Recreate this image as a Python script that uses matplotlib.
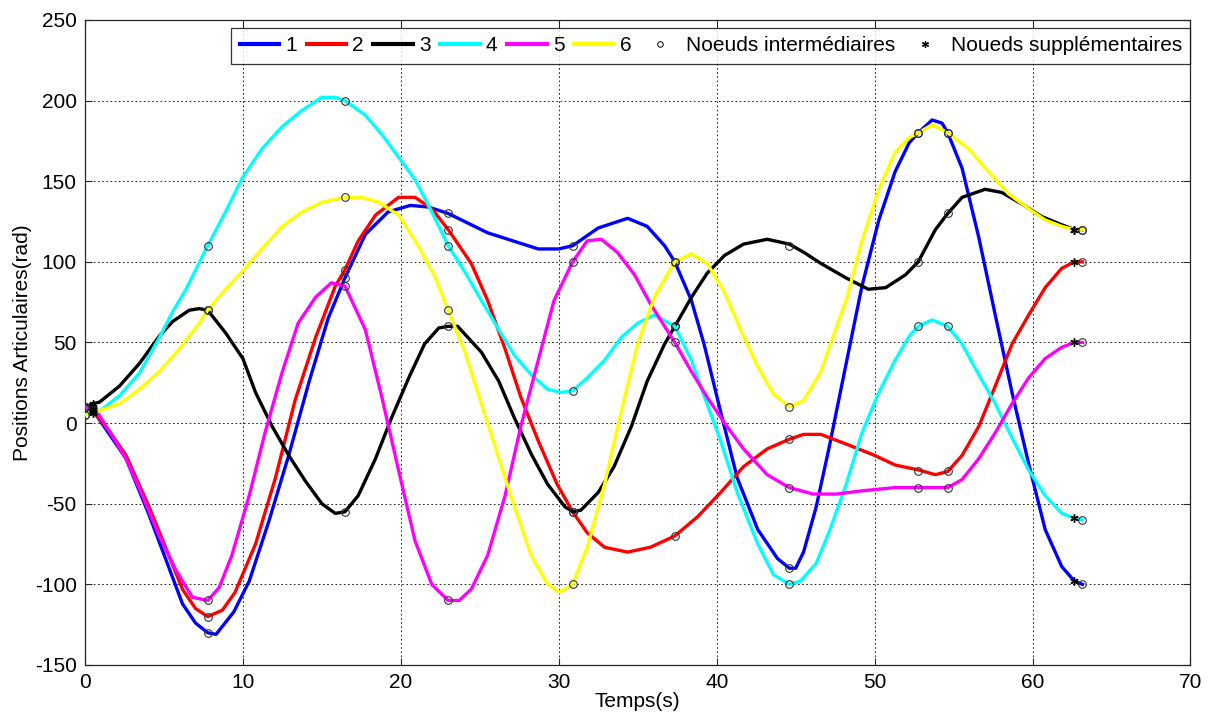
import matplotlib
matplotlib.use("Agg")
import matplotlib.pyplot as plt
from matplotlib.lines import Line2D

plt.rcParams['font.family'] = ['Liberation Sans', 'DejaVu Sans']
plt.rcParams['axes.unicode_minus'] = False

# courbes (temps, position)
t1 = [0, 0.5, 2.6, 4.06, 5.1, 6.17, 7.0, 7.77, 8.3, 9.43, 10.4, 11.64, 12.9, 14.2, 15.4, 16.46,
      17.75, 19.2, 20.6, 21.75, 23.0, 25.5, 28.7, 30.0, 30.88, 32.5, 34.36, 35.6, 36.7, 37.35,
      38.4, 39.2, 40.25, 41.3, 42.6, 43.85, 44.6, 45.0, 45.5, 46.3, 47.1, 48.2, 49.2, 50.27, 51.3,
      52.2, 52.76, 53.64, 54.27, 54.63, 55.54, 56.6, 57.64, 58.7, 59.75, 60.8, 61.85, 62.65, 63.16]
q1 = [10, 8, -22, -57, -84, -112, -124, -130, -131, -117, -98, -61, -20, 26, 65, 90,
      117, 131, 135, 134, 130, 118, 108, 108, 110, 121, 127, 122, 110, 100,
      76, 49, 7, -34, -66, -84, -90, -90, -80, -52, -16, 37, 85, 126, 156,
      174, 180, 188, 186, 180, 158, 115, 67, 19, -25, -66, -89, -98, -100]

t2 = [0, 0.5, 1.54, 2.6, 4.06, 5.1, 6.17, 7.0, 7.77, 8.7, 9.5, 10.8, 12.06, 13.3, 14.6, 15.85, 16.46,
      17.3, 18.4, 19.85, 20.9, 21.96, 23.0, 24.46, 25.5, 26.6, 27.6, 28.7, 29.9, 30.88, 31.8,
      32.9, 34.36, 35.8, 37.35, 38.8, 40.25, 41.7, 43.2, 44.6, 45.5, 46.6, 48.2, 50.0, 51.3,
      52.76, 53.85, 54.63, 55.54, 56.6, 57.64, 58.7, 59.75, 60.8, 61.85, 62.65, 63.16]
q2 = [10, 8, -5, -20, -52, -77, -103, -115, -120, -116, -105, -75, -34, 14, 53, 85, 95,
      113, 129, 140, 140, 133, 120, 99, 76, 46, 16, -11, -38, -55, -68,
      -77, -80, -77, -70, -58, -43, -27, -16, -10, -7, -7, -13, -20, -26,
      -29, -32, -30, -20, -2, 23, 49, 67, 84, 96, 100, 100]

t3 = [0, 0.5, 0.92, 2.19, 3.45, 4.71, 5.55, 6.6, 7.24, 7.77, 8.9, 10.0, 10.8, 11.85, 12.9, 13.96,
      15.0, 15.85, 16.46, 17.3, 18.4, 19.4, 20.5, 21.5, 22.4, 23.0, 23.6, 25.1, 26.2, 27.2,
      28.3, 29.3, 30.4, 30.9, 31.4, 32.5, 33.5, 34.6, 35.6, 36.7, 37.35, 38.4, 39.4, 40.5, 41.7,
      43.2, 44.6, 45.5, 46.6, 48.2, 49.6, 50.7, 51.96, 52.76, 53.85, 54.63, 55.54, 57.0, 58.06,
      59.3, 60.6, 61.85, 62.65, 63.16]
q3 = [10, 12, 13, 23, 37, 54, 63, 70, 71, 70, 56, 40, 19, -2, -20, -36,
      -50, -56, -55, -45, -22, 3, 28, 49, 59, 60, 60, 44, 26, 3,
      -20, -38, -52, -55, -54, -43, -27, -2, 26, 49, 60, 78, 93, 104, 111,
      114, 111, 106, 99, 90, 83, 84, 92, 100, 120, 130, 140, 145, 143,
      136, 128, 123, 120, 120]

t4 = [0, 0.5, 1.0, 2.19, 3.45, 4.71, 5.55, 6.4, 7.77, 8.9, 9.96, 11.2, 12.5, 13.75, 15.0, 15.85,
      16.46, 17.75, 18.8, 19.85, 20.9, 21.96, 23.0, 24.04, 25.1, 26.2, 27.2, 28.25, 29.3, 30.15,
      30.88, 31.8, 32.9, 33.95, 35.0, 36.05, 37.35, 38.4, 39.2, 40.25, 41.3, 42.6, 43.6, 44.6,
      45.3, 46.3, 47.1, 48.2, 49.2, 50.27, 51.3, 52.2, 52.76, 53.64, 54.63, 55.54, 56.6, 57.64,
      58.7, 59.75, 60.8, 61.85, 62.65, 63.16]
q4 = [5, 7, 8, 17, 31, 53, 69, 83, 110, 131, 152, 170, 184, 194, 202, 202,
      200, 191, 179, 165, 151, 131, 110, 94, 76, 58, 42, 30, 21, 19,
      20, 28, 39, 53, 62, 67, 60, 39, 17, -11, -43, -75, -94, -100,
      -98, -87, -68, -38, -6, 19, 39, 54, 60, 64, 60, 49, 30, 12,
      -9, -29, -45, -56, -59, -60]

t5 = [0, 0.7, 1.54, 2.6, 3.64, 4.7, 5.75, 6.8, 7.77, 8.5, 9.3, 10.4, 11.4, 12.5, 13.5, 14.6, 15.6,
      16.46, 17.75, 18.8, 19.85, 20.9, 21.96, 23.0, 23.7, 24.46, 25.5, 26.6, 27.6, 28.7, 29.7,
      30.88, 31.8, 32.7, 33.7, 34.8, 35.8, 37.35, 38.4, 39.4, 40.5, 41.7, 43.2, 44.6, 46.1,
      47.6, 49.2, 51.3, 52.76, 54.63, 55.54, 56.6, 57.64, 58.7, 59.75, 60.8, 61.85, 62.65, 63.16]
q5 = [10, 8, -5, -22, -45, -70, -91, -108, -110, -102, -82, -45, -6, 32, 62, 78, 87,
      85, 58, 16, -29, -73, -100, -110, -110, -103, -82, -45, -2, 39, 76,
      100, 113, 114, 106, 92, 74, 50, 32, 16, 0, -16, -32, -40, -44,
      -44, -42, -40, -40, -40, -35, -22, -6, 12, 28, 40, 47, 50, 50]

t6 = [0, 0.7, 1.0, 2.19, 3.45, 4.71, 5.97, 7.24, 7.77, 8.9, 9.96, 11.2, 12.5, 13.75, 15.0, 16.46,
      17.5, 18.6, 19.85, 21.1, 22.2, 23.0, 24.06, 25.1, 26.15, 27.2, 28.25, 29.3, 30.04, 30.88,
      31.8, 32.9, 33.95, 35.0, 36.05, 37.35, 38.4, 39.4, 40.5, 41.5, 42.6, 43.6, 44.6, 45.5,
      46.6, 47.6, 48.2, 49.2, 50.27, 51.3, 52.2, 52.76, 53.64, 54.63, 55.96, 57.2, 58.5, 59.75,
      60.8, 61.85, 62.65, 63.16]
q6 = [5, 7, 8, 12, 21, 32, 46, 62, 70, 83, 94, 108, 122, 131, 137, 140,
      140, 137, 129, 110, 90, 70, 44, 12, -20, -52, -82, -100, -105, -100,
      -77, -38, 7, 49, 78, 100, 105, 99, 81, 58, 35, 18, 10, 14,
      32, 60, 76, 113, 145, 168, 177, 180, 185, 180, 170, 156, 142, 133,
      126, 122, 120, 120]

# noeuds intermediaires (cercles)
tn = [0, 7.77, 16.46, 23.0, 30.88, 37.35, 44.6, 52.76, 54.63, 63.16]
n1 = [10, -130, 90, 130, 110, 100, -90, 180, 180, -100]
n2 = [10, -120, 95, 120, -55, -70, -10, -30, -30, 100]
n3 = [10, 70, -55, 60, -55, 60, 110, 100, 130, 120]
n4 = [5, 110, 200, 110, 20, 60, -100, 60, 60, -60]
n5 = [10, -110, 85, -110, 100, 50, -40, -40, -40, 50]
n6 = [5, 70, 140, 70, -100, 100, 10, 180, 180, 120]

# noeuds supplementaires (etoiles)
ts = [0.5, 62.65]
s1 = [8, -98]
s2 = [8, 100]
s3 = [12, 120]
s4 = [7, -59]
s5 = [9, 50]
s6 = [6, 120]

couleurs = ['#0000ff', '#ff0000', '#000000', '#00ffff', '#ff00ff', '#ffff00']
asterisque = (6, 2, 0)

fig = plt.figure(figsize=(12.21, 7.21), dpi=100)
ax = fig.add_axes([0.0696, 0.0777, 0.9054, 0.8946])

courbes = [(t1, q1), (t2, q2), (t3, q3), (t4, q4), (t5, q5), (t6, q6)]
for i, (t, q) in enumerate(courbes):
    ax.plot(t, q, color=couleurs[i], lw=2.4, label=str(i + 1), zorder=3)

for n in [n1, n2, n3, n4, n5, n6]:
    ax.plot(tn, n, 'o', ms=5.5, mfc='none', mec='#333333', mew=0.8, zorder=4)
for s in [s1, s2, s3, s4, s5, s6]:
    ax.plot(ts, s, ls='none', marker=asterisque, ms=6, mew=1.0, color='black', zorder=4)

ax.set_xlim(0, 70)
ax.set_ylim(-150, 250)
ax.set_xticks(range(0, 71, 10))
ax.set_yticks(range(-150, 251, 50))
ax.grid(True, color='black', linestyle=(0, (2, 3)), lw=0.6)
ax.tick_params(direction='in', top=True, right=True, labelsize=15, length=5, width=0.8,
               color='#262626', pad=6)
for sp in ax.spines.values():
    sp.set_linewidth(0.9)
    sp.set_color('#262626')
ax.set_xlabel('Temps(s)', fontsize=15, labelpad=0)
ax.set_ylabel('Positions Articulaires(rad)', fontsize=15, labelpad=2)

handles = [Line2D([], [], color=c, lw=3) for c in couleurs]
handles.append(Line2D([], [], ls='none', marker='o', ms=4, mfc='none', mec='black', mew=0.7))
handles.append(Line2D([], [], ls='none', marker=asterisque, ms=5, mew=0.9, color='black'))
labels = ['1', '2', '3', '4', '5', '6', 'Noeuds intermédiaires', 'Noueds supplémentaires']
leg = ax.legend(handles, labels, ncol=8, loc='upper right', bbox_to_anchor=(1.0, 0.9876),
                fontsize=15, frameon=True, fancybox=False, edgecolor='black',
                handlelength=1.9, handletextpad=0.3, columnspacing=0.45, borderpad=0.4,
                borderaxespad=0.0)
leg.get_frame().set_linewidth(0.9)

plt.savefig('out.png', dpi=100)
